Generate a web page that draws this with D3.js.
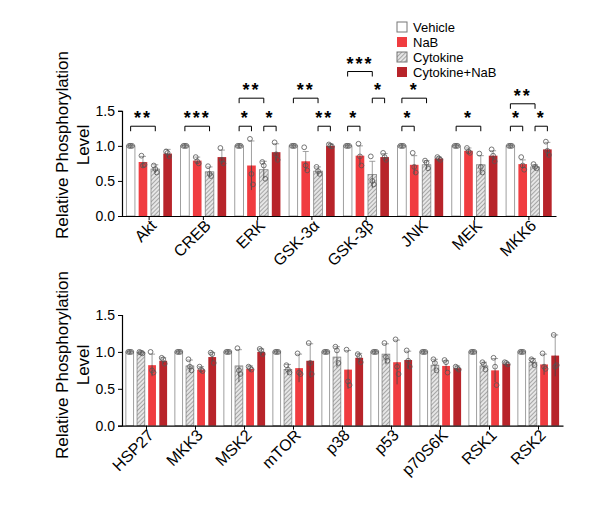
<!DOCTYPE html>
<html><head><meta charset="utf-8">
<script src="https://cdn.jsdelivr.net/npm/d3@7"></script>
<style>body{margin:0;background:#fff}text{font-family:Arial,"Liberation Sans",sans-serif}</style>
</head><body><div class="fig"></div>
<script>
var seriesNames = ['Vehicle', 'NaB', 'Cytokine', 'Cytokine+NaB'];
var colors = {'Vehicle': '#fff', 'NaB': '#f03c40', 'Cytokine': 'url(#hatch)', 'Cytokine+NaB': '#b8242a'};

// top panel: order Vehicle, NaB, Cytokine, Cytokine+NaB
var topCats = ['Akt', 'CREB', 'ERK', 'GSK-3α', 'GSK-3β', 'JNK', 'MEK', 'MKK6'];
var topOrder = ['Vehicle', 'NaB', 'Cytokine', 'Cytokine+NaB'];
var topVals = [
  [1, 0.77, 0.67, 0.89],
  [1, 0.79, 0.63, 0.84],
  [1, 0.72, 0.66, 0.91],
  [1, 0.78, 0.64, 1.00],
  [1, 0.86, 0.59, 0.84],
  [1, 0.73, 0.73, 0.82],
  [1, 0.93, 0.73, 0.86],
  [1, 0.74, 0.70, 0.95]
];
var topSd = [
  [0.01, 0.08, 0.06, 0.06],
  [0.01, 0.05, 0.07, 0.10],
  [0.01, 0.35, 0.12, 0.12],
  [0.01, 0.14, 0.06, 0.03],
  [0.01, 0.14, 0.19, 0.05],
  [0.01, 0.13, 0.06, 0.02],
  [0.01, 0.04, 0.13, 0.07],
  [0.01, 0.06, 0.03, 0.10]
];
var topPts = [
  [[1,1,1],[0.86,0.72,0.73],[0.72,0.67,0.62],[0.92,0.9,0.85]],
  [[1,1,1],[0.84,0.78,0.75],[0.71,0.6,0.57],[0.97,0.8,0.75]],
  [[1,1,1],[1.1,0.6,0.45],[0.77,0.72,0.53],[1.05,0.88,0.8]],
  [[1,1,1],[0.98,0.72,0.65],[0.7,0.64,0.6],[1.02,1,0.99]],
  [[1,1,1],[1.03,0.85,0.72],[0.85,0.5,0.45],[0.9,0.84,0.8]],
  [[1,1,1],[0.9,0.7,0.62],[0.79,0.76,0.68],[0.84,0.82,0.8]],
  [[1,1,1],[0.97,0.92,0.9],[0.89,0.7,0.62],[0.95,0.86,0.78]],
  [[1,1,1],[0.84,0.72,0.66],[0.74,0.7,0.68],[1.06,0.93,0.87]]
];
// brackets: [group, fromBar, toBar, level, label]
var topSig = [
  [0, 0, 2, 1.28, '**'], [1, 0, 2, 1.28, '***'],
  [2, 0, 1, 1.28, '*'], [2, 2, 3, 1.28, '*'], [2, 0, 2, 1.68, '**'],
  [3, 0, 2, 1.68, '**'], [3, 2, 3, 1.28, '**'],
  [4, 0, 1, 1.28, '*'], [4, 2, 3, 1.68, '*'], [4, 0, 2, 2.06, '***'],
  [5, 0, 1, 1.28, '*'], [5, 0, 2, 1.68, '*'],
  [6, 0, 2, 1.28, '*'],
  [7, 0, 1, 1.28, '*'], [7, 2, 3, 1.28, '*'], [7, 0, 2, 1.6, '**']
];

// bottom panel: order Vehicle, Cytokine, NaB, Cytokine+NaB
var botCats = ['HSP27', 'MKK3', 'MSK2', 'mTOR', 'p38', 'p53', 'p70S6K', 'RSK1', 'RSK2'];
var botOrder = ['Vehicle', 'Cytokine', 'NaB', 'Cytokine+NaB'];
var botVals = [
  [1, 0.99, 0.82, 0.88],
  [1, 0.81, 0.76, 0.93],
  [1, 0.81, 0.77, 1.00],
  [1, 0.76, 0.78, 0.88],
  [1, 0.93, 0.76, 0.92],
  [1, 0.97, 0.86, 0.89],
  [1, 0.82, 0.81, 0.78],
  [1, 0.81, 0.75, 0.84],
  [1, 0.86, 0.83, 0.95]
];
var botSd = [
  [0.01, 0.02, 0.15, 0.04],
  [0.01, 0.08, 0.04, 0.06],
  [0.01, 0.22, 0.04, 0.04],
  [0.01, 0.07, 0.19, 0.23],
  [0.01, 0.14, 0.26, 0.06],
  [0.01, 0.14, 0.30, 0.12],
  [0.01, 0.08, 0.07, 0.03],
  [0.01, 0.05, 0.16, 0.02],
  [0.01, 0.05, 0.14, 0.28]
];
var botPts = [
  [[1,1,1],[1,0.99,0.98],[1,0.75,0.72],[0.92,0.9,0.84]],
  [[1,1,1],[0.9,0.8,0.75],[0.8,0.76,0.74],[0.99,0.97,0.85]],
  [[1,1,1],[1.05,0.75,0.7],[0.8,0.78,0.76],[1.04,1.02,0.97]],
  [[1,1,1],[0.82,0.76,0.72],[0.98,0.72,0.7],[1.12,0.85,0.7]],
  [[1,1,1],[1.07,1.02,0.85],[1.03,0.6,0.55],[0.97,0.94,0.86]],
  [[1,1,1],[1.12,0.93,0.88],[1.17,0.8,0.7],[1.02,0.88,0.8]],
  [[1,1,1],[0.9,0.85,0.75],[0.89,0.86,0.72],[0.8,0.78,0.76]],
  [[1,1,1],[0.86,0.83,0.76],[0.92,0.8,0.55],[0.86,0.85,0.83]],
  [[1,1,1],[0.9,0.88,0.82],[0.98,0.8,0.77],[1.23,0.8,0.82]]
];
var yTicks = [0, 0.5, 1.0, 1.5];

var svg = d3.select('.fig').append('svg').attr('width', 600).attr('height', 511);
var pat = svg.append('defs').append('pattern').attr('id', 'hatch')
  .attr('patternUnits', 'userSpaceOnUse').attr('width', 3).attr('height', 3)
  .attr('patternTransform', 'rotate(45)');
pat.append('rect').attr('width', 3).attr('height', 3).attr('fill', '#e6e6e6');
pat.append('line').attr('x1', 0).attr('y1', 0).attr('x2', 0).attr('y2', 3)
  .attr('stroke', '#666').attr('stroke-width', 1);

function panel(cats, order, vals, sd, pts, sig, x0, x1, yBase, yTop, barW, labelY) {
  var g = svg.append('g');
  var x = d3.scaleBand().domain(cats).range([x0, x1]);
  var xi = d3.scaleBand().domain(order).range([0, x.bandwidth()]).paddingInner(0.3).paddingOuter(0.35);
  var y = d3.scaleLinear().domain([0, 1.5]).range([yBase, yTop]);
  var bw = Math.min(barW, xi.bandwidth());
  var bx = function (gi, s) { return x(cats[gi]) + xi(order[s]) + xi.bandwidth() / 2; };

  var rows = [];
  cats.forEach(function (c, gi) {
    order.forEach(function (s, si) {
      rows.push({gi: gi, si: si, s: s, v: vals[gi][si], sd: sd[gi][si], p: pts[gi][si]});
    });
  });
  var bars = g.selectAll('.bar').data(rows).enter().append('g');
  bars.append('line')
    .attr('x1', function (d) { return bx(d.gi, d.si); }).attr('x2', function (d) { return bx(d.gi, d.si); })
    .attr('y1', function (d) { return y(d.v - d.sd); }).attr('y2', function (d) { return y(d.v + d.sd); })
    .attr('stroke', '#888').attr('stroke-width', 0.8);
  bars.append('line')
    .attr('x1', function (d) { return bx(d.gi, d.si) - 3; }).attr('x2', function (d) { return bx(d.gi, d.si) + 3; })
    .attr('y1', function (d) { return y(d.v + d.sd); }).attr('y2', function (d) { return y(d.v + d.sd); })
    .attr('stroke', '#888').attr('stroke-width', 0.8);
  bars.append('rect')
    .attr('x', function (d) { return bx(d.gi, d.si) - bw / 2; })
    .attr('y', function (d) { return y(d.v); })
    .attr('width', bw).attr('height', function (d) { return y(0) - y(d.v); })
    .attr('fill', function (d) { return colors[d.s]; })
    .attr('stroke', function (d) { return d.s === 'Vehicle' || d.s === 'Cytokine' ? '#777' : 'none'; })
    .attr('stroke-width', 0.7);
  bars.append('line')
    .attr('x1', function (d) { return bx(d.gi, d.si); }).attr('x2', function (d) { return bx(d.gi, d.si); })
    .attr('y1', function (d) { return y(d.v); }).attr('y2', function (d) { return y(d.v - d.sd); })
    .attr('stroke', '#444').attr('stroke-width', 0.8);
  bars.selectAll('circle').data(function (d) {
    return d.p.map(function (v, k) { return {x: bx(d.gi, d.si) + (k - 1) * 1.5, v: v}; });
  }).enter().append('circle')
    .attr('cx', function (d) { return d.x; }).attr('cy', function (d) { return y(d.v); })
    .attr('r', 2.4).attr('fill', 'none').attr('stroke', '#555').attr('stroke-width', 0.8);

  var ax = g.append('g').attr('transform', 'translate(' + x0 + ',0)')
    .call(d3.axisLeft(y).tickValues(yTicks).tickFormat(d3.format('.1f')).tickSize(4));
  ax.selectAll('text').attr('font-size', 14).attr('fill', '#000');
  ax.select('.domain').attr('stroke', '#000').attr('stroke-width', 1.2);
  var bx2 = g.append('g').attr('transform', 'translate(0,' + yBase + ')')
    .call(d3.axisBottom(x).tickSize(4).tickSizeOuter(0));
  bx2.select('.domain').attr('stroke', '#000').attr('stroke-width', 1.2);
  bx2.selectAll('text').attr('font-size', 16).attr('fill', '#000')
    .attr('text-anchor', 'end').attr('dx', '-0.1em').attr('dy', '0.4em')
    .attr('transform', 'rotate(-45)');

  sig.forEach(function (b) {
    var xa = bx(b[0], b[1]), xb = bx(b[0], b[2]), yy = y(b[3]);
    g.append('path').attr('d', 'M' + xa + ',' + (yy + 5) + 'V' + yy + 'H' + xb + 'V' + (yy + 5))
      .attr('fill', 'none').attr('stroke', '#000').attr('stroke-width', 1);
    g.append('text').attr('x', (xa + xb) / 2).attr('y', yy - 2).attr('text-anchor', 'middle')
      .attr('font-size', 18).attr('font-weight', 'bold').attr('letter-spacing', 2).text(b[4]);
  });

  var lab = g.append('text').attr('transform', 'translate(68,' + labelY + ') rotate(-90)')
    .attr('text-anchor', 'middle').attr('font-size', 17);
  lab.append('tspan').attr('x', 0).attr('dy', 0).text('Relative Phosphorylation');
  lab.append('tspan').attr('x', 0).attr('dy', 21).text('Level');
}

panel(topCats, topOrder, topVals, topSd, topPts, topSig, 122, 556, 216, 110.8, 9.5, 145);
panel(botCats, botOrder, botVals, botSd, botPts, [], 122, 563, 425.7, 315, 8, 365);

var leg = svg.append('g').selectAll('g').data(seriesNames).enter().append('g')
  .attr('transform', function (d, i) { return 'translate(397,' + (22 + i * 15) + ')'; });
leg.append('rect').attr('width', 10).attr('height', 10)
  .attr('fill', function (d) { return colors[d]; })
  .attr('stroke', function (d) { return d === 'Vehicle' || d === 'Cytokine' ? '#777' : 'none'; });
leg.append('text').attr('x', 16).attr('y', 9.5).attr('font-size', 13).text(function (d) { return d; });
</script></body></html>
